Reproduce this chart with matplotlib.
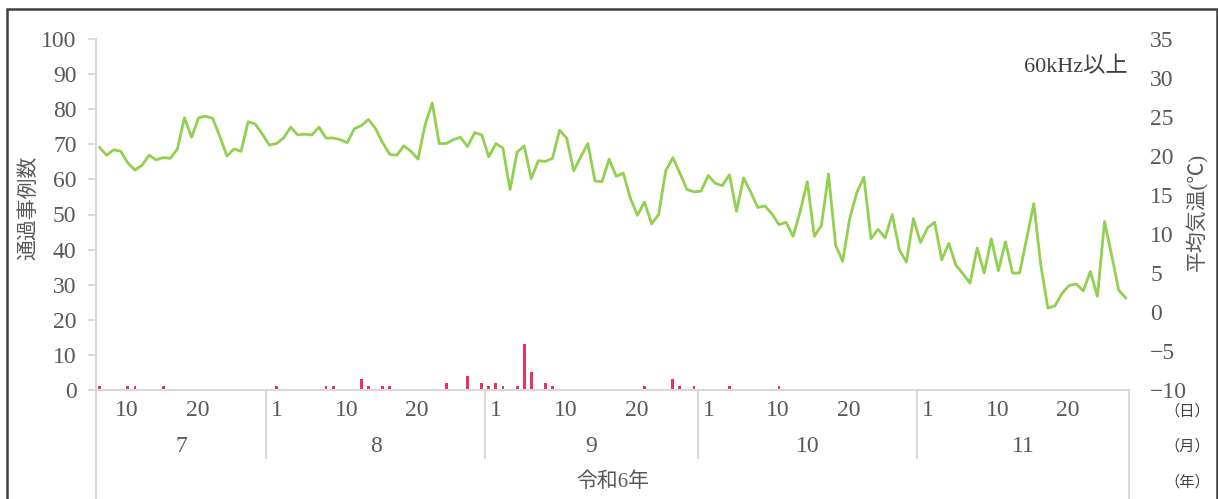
import matplotlib
matplotlib.use('Agg')
import matplotlib.pyplot as plt
import matplotlib.transforms as mtransforms
from matplotlib.patches import Rectangle
import numpy as np
import pandas as pd

plt.rcParams['font.family'] = ['Liberation Serif', 'Noto Sans CJK JP', 'DejaVu Sans']

# daily data, 2024-07-08 .. 2024-11-30
start_date = '2024-07-08'
end_date = '2024-11-30'

temp_jul = [21.1, 20.1, 20.8, 20.6, 19.1, 18.2, 18.8, 20.1, 19.5, 19.8, 19.7, 20.9,
            24.9, 22.4, 24.9, 25.1, 24.8, 22.5, 20.0, 20.9, 20.6, 24.4, 24.1, 22.8]
temp_aug = [21.4, 21.6, 22.3, 23.7, 22.7, 22.8, 22.7, 23.7, 22.3, 22.3, 22.1, 21.7,
            23.5, 23.9, 24.7, 23.5, 21.7, 20.2, 20.1, 21.3, 20.6, 19.6, 24.0, 26.8,
            21.6, 21.6, 22.1, 22.4, 21.2, 23.0, 22.7]
temp_sep = [19.9, 21.6, 21.0, 15.7, 20.5, 21.3, 17.1, 19.4, 19.3, 19.7, 23.3, 22.3,
            18.1, 19.9, 21.6, 16.8, 16.7, 19.6, 17.4, 17.8, 14.6, 12.4, 14.1, 11.3,
            12.5, 18.1, 19.8, 17.8, 15.7, 15.4]
temp_oct = [15.5, 17.5, 16.5, 16.2, 17.6, 12.9, 17.2, 15.4, 13.4, 13.6, 12.6, 11.2,
            11.5, 9.7, 12.9, 16.7, 9.7, 11.1, 17.7, 8.6, 6.5, 12.0, 15.3, 17.3,
            9.4, 10.6, 9.5, 12.5, 8.0, 6.4, 12.0]
temp_nov = [8.9, 10.8, 11.5, 6.7, 8.8, 6.0, 4.9, 3.7, 8.2, 5.0, 9.4, 5.3,
            9.0, 5.0, 5.0, 9.4, 13.9, 6.0, 0.5, 0.8, 2.4, 3.4, 3.6, 2.7,
            5.2, 2.0, 11.6, 7.3, 2.8, 1.8]

# days with passages (60kHz and above), all other days are 0
event_dates = ['2024-07-08', '2024-07-12', '2024-07-13', '2024-07-17',
               '2024-08-02', '2024-08-09', '2024-08-10', '2024-08-14', '2024-08-15',
               '2024-08-17', '2024-08-18', '2024-08-26', '2024-08-29', '2024-08-31',
               '2024-09-01', '2024-09-02', '2024-09-03', '2024-09-05', '2024-09-06',
               '2024-09-07', '2024-09-09', '2024-09-10', '2024-09-23', '2024-09-27',
               '2024-09-28', '2024-09-30', '2024-10-05', '2024-10-12', '2024-10-24']
event_counts = [1, 1, 1, 1,
                1, 1, 1, 3, 1,
                1, 1, 2, 4, 2,
                1, 2, 1, 1, 13,
                5, 2, 1, 1, 3,
                1, 1, 1, 1, 0.3]

day_labels = [1, 10, 20]
era_label = '令和6年'
panel_label = '60kHz以上'

dates = pd.date_range(start_date, end_date, freq='D')
temps = temp_jul + temp_aug + temp_sep + temp_oct + temp_nov
n = len(dates)
counts = pd.Series(0.0, index=dates)
counts[pd.to_datetime(event_dates)] = event_counts

W, H = 1218, 499
def fx(px): return px / W
def fy(py): return 1 - py / H

grey = '#595959'
axis_col = '#D9D9D9'

fig = plt.figure(figsize=(W / 100, H / 100), dpi=100)
ax = fig.add_axes([fx(96), fy(390), fx(1129.3) - fx(96), fy(39) - fy(390)])
x = np.arange(n)
ax.bar(x, counts.values, width=0.4, color='#E8335F', zorder=2)
ax.set_xlim(-0.5, n - 0.5)
ax.set_ylim(0, 100)
ax.set_yticks(range(0, 101, 10))
ax.tick_params(axis='y', length=6, width=1.3, color=axis_col, labelsize=17,
               labelcolor=grey, pad=8)
ax.tick_params(axis='x', bottom=False, labelbottom=False)
for s in ['top', 'right']:
    ax.spines[s].set_visible(False)
for s in ['left', 'bottom']:
    ax.spines[s].set_color(axis_col)
    ax.spines[s].set_linewidth(1.5)

ax2 = ax.twinx()
ax2.plot(x, temps, color='#92D050', lw=2.0, zorder=3)
ax2.set_ylim(-10, 35)
ax2.set_yticks(range(-10, 36, 5))
ax2.tick_params(axis='y', length=0, labelsize=17, labelcolor=grey, pad=15)
for s in ax2.spines.values():
    s.set_visible(False)

# category axis (day / month / year)
trans = mtransforms.blended_transform_factory(ax.transData, fig.transFigure)
month_starts = [0] + [i for i in range(1, n) if dates[i].day == 1]
for b in month_starts[1:]:
    ax.plot([b - 0.5, b - 0.5], [fy(390), fy(458)], color=axis_col, lw=1.5,
            transform=trans, clip_on=False)
for edge in [-0.5, n - 0.5]:
    ax.plot([edge, edge], [fy(390), 0], color=axis_col, lw=1.5,
            transform=trans, clip_on=False)
for i, d in enumerate(dates):
    if d.day in day_labels:
        ax.text(i + 0.2, fy(411), str(d.day), transform=trans, ha='left',
                va='center', fontsize=17, color=grey)
bounds = month_starts + [n]
for a, b in zip(bounds[:-1], bounds[1:]):
    ax.text((a + b - 1) / 2, fy(447), str(dates[a].month), transform=trans,
            ha='center', va='center', fontsize=17, color=grey)
ax.text((n - 1) / 2, fy(482), era_label, transform=trans, ha='center',
        va='center', fontsize=15, color=grey)

for py, t in zip([411, 446, 482], ['（日）', '（月）', '（年）']):
    fig.text(fx(1187), fy(py), t, ha='center', va='center', fontsize=11,
             color='#404040')

fig.text(fx(1128), fy(67), panel_label, ha='right', va='center', fontsize=16,
         color='#404040')
fig.text(fx(30), fy(208), '通過事例数', rotation=90, ha='center', va='center',
         fontsize=15, color=grey)
fig.text(fx(1197), fy(212), '平均気温(℃)', rotation=90, ha='center', va='center',
         fontsize=15, color=grey)

fig.add_artist(Rectangle((fx(7), -0.1), fx(1217) - fx(7), fy(9) + 0.1, fill=False,
                         edgecolor='#404040', lw=1.8, transform=fig.transFigure))

fig.savefig('out.png', dpi=100)
